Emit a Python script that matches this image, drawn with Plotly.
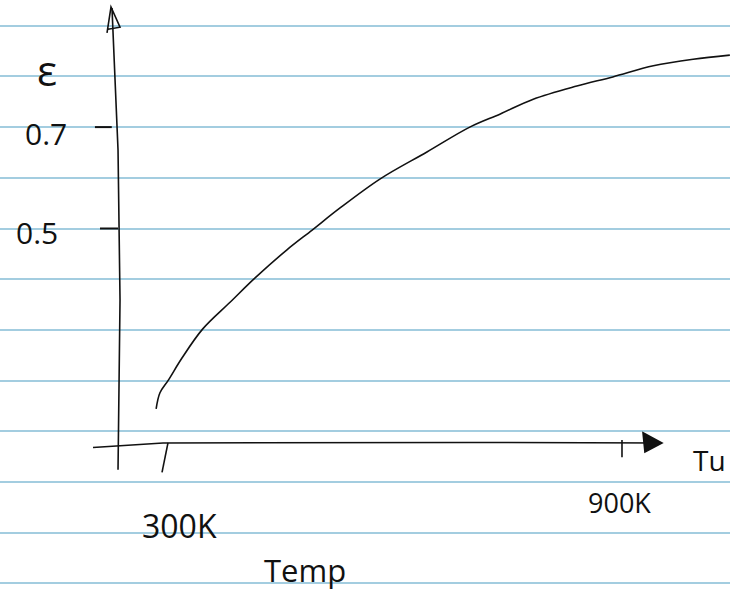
import plotly.graph_objects as go

# Curve: emissivity vs temperature (K)
temps = [291, 296, 307, 325, 352, 388, 420, 462, 495, 531, 584, 645, 701, 741, 784, 841, 888, 941, 993, 1041]
emissivity = [0.144, 0.176, 0.201, 0.245, 0.302, 0.355, 0.402, 0.458, 0.497, 0.540, 0.598, 0.651,
              0.700, 0.726, 0.755, 0.781, 0.799, 0.821, 0.834, 0.842]

y_tick_vals = [0.5, 0.7]
y_tick_text = ["0.5", "0.7"]
x_tick_vals = [300, 900]
x_tick_text = ["300K", "900K"]
x_title = "Temp"
y_title = "ε"
right_note = "Tu"

INK = "#111111"
RULE = "#a3cde0"
FONT = "Open Sans"

fig = go.Figure()
fig.add_trace(go.Scatter(x=temps, y=emissivity, mode="lines", line_shape="spline",
                         line=dict(color=INK, width=1.6), hoverinfo="skip",
                         showlegend=False))

# hand-drawn axes (data coordinates)
fig.add_shape(type="path", xref="x", yref="y",
              path="M 233.3 0.935 L 241.2 0.655 L 243.8 0.359 L 241.2 0.024",
              line=dict(color=INK, width=1.6))
fig.add_shape(type="path", xref="x", yref="y",
              path="M 226.8 0.886 L 232.0 0.937 L 243.8 0.897 L 228 0.893",
              line=dict(color=INK, width=1.6))
fig.add_shape(type="path", xref="x", yref="y",
              path="M 208.5 0.068 L 300 0.077 L 700 0.078 L 952 0.077",
              line=dict(color=INK, width=1.6))
fig.add_shape(type="path", xref="x", yref="y",
              path="M 927.5 0.097 L 952.3 0.077 L 930 0.059 Z",
              line=dict(color=INK, width=1.6), fillcolor=INK)

# tick marks
y_tick_x = {0.5: (217.6, 241.2), 0.7: (211.0, 233.0)}
for v in y_tick_vals:
    xa, xb = y_tick_x[v]
    fig.add_shape(type="line", xref="x", yref="y", x0=xa, x1=xb, y0=v, y1=v,
                  line=dict(color=INK, width=2))
fig.add_shape(type="line", xref="x", yref="y", x0=x_tick_vals[0] + 6.5, x1=x_tick_vals[0] - 1.3,
              y0=0.077, y1=0.019, line=dict(color=INK, width=1.6))
fig.add_shape(type="line", xref="x", yref="y", x0=x_tick_vals[1], x1=x_tick_vals[1],
              y0=0.083, y1=0.049, line=dict(color=INK, width=1.6))

# labels
ann = []
ann.append(dict(x=148, y=0.813, text=y_title, font=dict(size=42, color=INK, family=FONT)))
ann.append(dict(x=147, y=0.688, text=y_tick_text[1], font=dict(size=30, color=INK, family=FONT)))
ann.append(dict(x=135, y=0.493, text=y_tick_text[0], font=dict(size=30, color=INK, family=FONT)))
ann.append(dict(x=321, y=-0.085, text=x_tick_text[0], font=dict(size=32, color=INK, family=FONT)))
ann.append(dict(x=897, y=-0.041, text=x_tick_text[1], font=dict(size=27, color=INK, family=FONT)))
ann.append(dict(x=486, y=-0.173, text=x_title, font=dict(size=31, color=INK, family=FONT)))
ann.append(dict(x=1039, y=0.043, text=right_note, xanchor="right",
                font=dict(size=28, color=INK, family=FONT)))
for a in ann:
    a.update(xref="x", yref="y", showarrow=False)
    a.setdefault("xanchor", "center")
    a["yanchor"] = "middle"

fig.update_layout(
    width=730, height=598,
    margin=dict(l=0, r=0, t=0, b=0),
    paper_bgcolor="white", plot_bgcolor="white",
    annotations=ann,
    xaxis=dict(range=[86.9, 1041.2], showgrid=False, zeroline=False,
               showticklabels=False, showline=False, ticks=""),
    yaxis=dict(range=[-0.2288, 0.9507], showgrid=True, gridcolor=RULE, gridwidth=2,
               tick0=0, dtick=0.1, zeroline=False, showticklabels=False,
               showline=False, ticks=""),
)

fig.write_html("out.html", config={"displayModeBar": False},
               post_script="document.body.style.margin='0';document.body.style.padding='0';"
                           "document.body.style.overflow='hidden';")
